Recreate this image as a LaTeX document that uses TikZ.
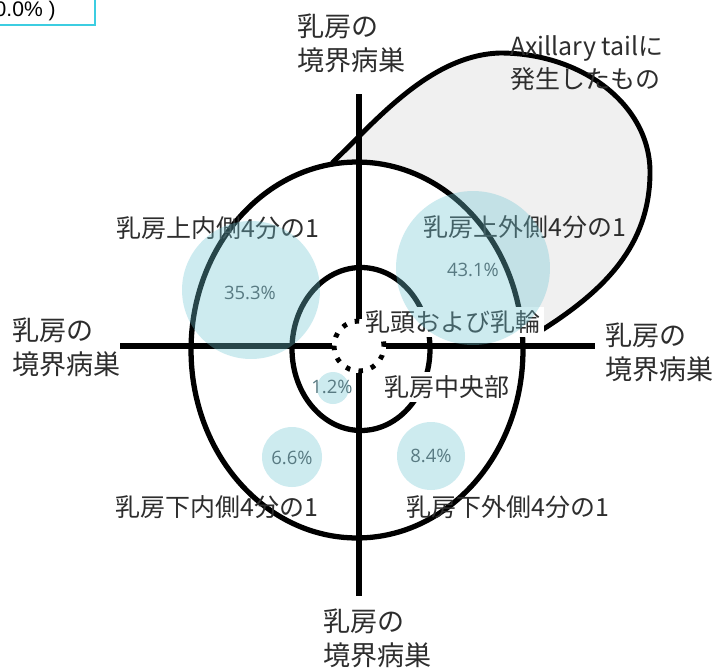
\documentclass[tikz,border=0pt]{standalone}
\usepackage{fontspec}
\setmainfont{Liberation Sans}
\newfontfamily\jpfont{Noto Sans CJK JP}
\newfontfamily\pctfont{Open Sans}
\usetikzlibrary{positioning}
\definecolor{blobblue}{RGB}{113,198,212}
\definecolor{tailgray}{RGB}{240,240,240}
\definecolor{labelgray}{RGB}{45,45,45}
\definecolor{pctteal}{RGB}{88,122,130}
\definecolor{boxcyan}{RGB}{60,205,225}

\begin{document}
\begin{tikzpicture}[x=0.02cm, y=-0.02cm,
    outline/.style={line width=3pt, black},
    axisline/.style={line width=3.4pt, black},
    tail/.style={line width=2.8pt, black, fill=tailgray},
    nipple/.style={circle, draw, line width=2.8pt, dash pattern=on 2.6pt off 4.8pt, minimum size=1cm, inner sep=0pt},
    region/.style={font=\fontsize{14.2}{17}\selectfont\jpfont, text=labelgray, inner sep=1pt},
    border/.style={font=\fontsize{15.4}{19.4}\selectfont\jpfont, text=labelgray, align=left, anchor=west, inner sep=0pt},
    blob/.style={circle, fill=blobblue, fill opacity=0.35, inner sep=0pt},
    pct/.style={font=\fontsize{10.5}{12}\selectfont\pctfont, text=pctteal}]
\useasboundingbox (0,0) rectangle (715,669);
\clip (0,0) rectangle (715,669);
\draw[boxcyan, line width=0.8pt] (-20,-20) rectangle (95,25);
\node[anchor=east, inner sep=0pt, font=\fontsize{12}{14}\selectfont] (legendtext) at (56,11) {0.0\% )};
\draw[tail] (300,250) -- (333,162) .. controls (375,122) and (430,55) .. (500,53)
    .. controls (582,53) and (650,105) .. (650,172)
    .. controls (650,245) and (605,290) .. (542,330) -- (536,321) -- (515,318) -- cycle;
\draw[outline, fill=white] (357,350) ellipse [x radius=3.32cm, y radius=3.76cm];
\draw[outline] (361,349) ellipse [x radius=1.38cm, y radius=1.63cm];
\node[nipple] (nipple) at (359,346) {};
\coordinate (topend) at (359,94);
\coordinate (bottomend) at (359,596);
\coordinate (leftend) at (120,346);
\coordinate (rightend) at (595,346);
\draw[axisline] (nipple) -- (topend);
\draw[axisline] (nipple) -- (bottomend);
\draw[axisline] (nipple) -- (leftend);
\draw[axisline] (nipple) -- (rightend);
\node[region, fill=white, inner sep=2pt] (areola) at (453,322) {乳頭および乳輪};
\node[region, fill=white, inner sep=2pt] (central) at (447,387) {乳房中央部};
\node[region] (uinner) at (218,228) {乳房上内側4分の1};
\node[region] (uouter) at (525,227) {乳房上外側4分の1};
\node[region] (linner) at (217,507) {乳房下内側4分の1};
\node[region] (louter) at (508,507) {乳房下外側4分の1};
\node[blob, minimum size=2.76cm] (uiblob) at (251,290) {};
\node[blob, minimum size=3.08cm] (uoblob) at (473,268) {};
\node[blob, minimum size=0.64cm] (cblob) at (333,388) {};
\node[blob, minimum size=1.2cm] (liblob) at (292,457) {};
\node[blob, minimum size=1.36cm] (loblob) at (431,456) {};
\node[pct] (uipct) at (250,293) {35.3\%};
\node[pct] (uopct) at (473,270) {43.1\%};
\node[pct] (cpct) at (332,387) {1.2\%};
\node[pct] (lipct) at (292,458) {6.6\%};
\node[pct] (lopct) at (431,456) {8.4\%};
\node[border] (topborder) at (297,43.5) {乳房の\\境界病巣};
\node[border] (leftborder) at (12,347.5) {乳房の\\境界病巣};
\node[border] (rightborder) at (605,352) {乳房の\\境界病巣};
\node[border] (bottomborder) at (323,638.5) {乳房の\\境界病巣};
\node[border, font=\fontsize{14.2}{18.8}\selectfont\jpfont] (axillary) at (510,63.5) {Axillary tailに\\発生したもの};
\end{tikzpicture}
\end{document}
